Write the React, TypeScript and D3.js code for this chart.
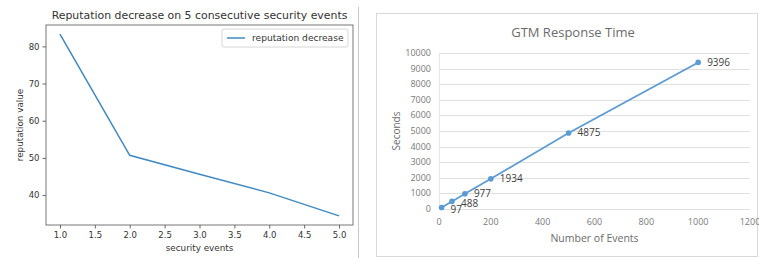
import { useEffect, useRef } from 'react';
import * as d3 from 'd3';

// left chart: reputation decrease
const repEvents = [1, 2, 3, 4, 5];
const repValues = [83.3, 50.7, 45.6, 40.6, 34.4];
const repTitle = 'Reputation decrease on 5 consecutive security events';
const repLegend = 'reputation decrease';

// right chart: GTM response time
const gtmEvents = [10, 50, 100, 200, 500, 1000];
const gtmSeconds = [97, 488, 977, 1934, 4875, 9396];
const gtmXTicks = [0, 200, 400, 600, 800, 1000, 1200];
const gtmYTicks = [0, 1000, 2000, 3000, 4000, 5000, 6000, 7000, 8000, 9000, 10000];

const App = () => {
  const svgRef = useRef<SVGSVGElement>(null);

  useEffect(() => {
    const svg = d3.select(svgRef.current);
    svg.selectAll('*').remove();
    svg.append('rect').attr('width', 759).attr('height', 258).attr('fill', '#fff');

    // ---- left: matplotlib style ----
    const mpl = 'DejaVu Sans';
    const box = { left: 46, right: 353, top: 25, bottom: 225 };
    const [x0, x1] = d3.extent(repEvents) as [number, number];
    const [y0, y1] = d3.extent(repValues) as [number, number];
    const xm = (x1 - x0) * 0.05;
    const ym = (y1 - y0) * 0.05;
    const x = d3.scaleLinear().domain([x0 - xm, x1 + xm]).range([box.left, box.right]);
    const y = d3.scaleLinear().domain([y0 - ym, y1 + ym]).range([box.bottom, box.top]);

    const left = svg.append('g').attr('font-family', mpl);

    const xAxis = left.append('g')
      .attr('transform', `translate(0,${box.bottom})`)
      .call(d3.axisBottom(x).ticks(9).tickFormat(d3.format('.1f')).tickSize(3.5).tickPadding(3));
    const yAxis = left.append('g')
      .attr('transform', `translate(${box.left},0)`)
      .call(d3.axisLeft(y).ticks(5).tickSize(3.5).tickPadding(3));
    [xAxis, yAxis].forEach(a => {
      a.select('.domain').remove();
      a.selectAll('line').attr('stroke', '#444').attr('stroke-width', 0.8);
      a.selectAll('text').attr('font-family', mpl).attr('font-size', 8.5).attr('fill', '#333');
    });

    left.append('path')
      .datum(repEvents.map((e, i) => [e, repValues[i]] as [number, number]))
      .attr('fill', 'none')
      .attr('stroke', '#3f8ac4')
      .attr('stroke-width', 1.5)
      .attr('d', d3.line<[number, number]>().x(d => x(d[0])).y(d => y(d[1])));

    left.append('rect')
      .attr('x', box.left).attr('y', box.top)
      .attr('width', box.right - box.left).attr('height', box.bottom - box.top)
      .attr('fill', 'none').attr('stroke', '#555').attr('stroke-width', 0.8);

    left.append('text')
      .attr('x', (box.left + box.right) / 2).attr('y', 19)
      .attr('text-anchor', 'middle').attr('font-size', 10.9).attr('fill', '#333')
      .text(repTitle);

    left.append('text')
      .attr('x', (box.left + box.right) / 2).attr('y', 251)
      .attr('text-anchor', 'middle').attr('font-size', 8.8).attr('fill', '#333')
      .text('security events');

    left.append('text')
      .attr('transform', `translate(23,${(box.top + box.bottom) / 2}) rotate(-90)`)
      .attr('text-anchor', 'middle').attr('font-size', 8.8).attr('fill', '#333')
      .text('reputation value');

    // legend
    const lg = left.append('g');
    lg.append('rect')
      .attr('x', 222).attr('y', 29).attr('width', 126).attr('height', 18).attr('rx', 2)
      .attr('fill', '#fff').attr('stroke', '#ccc').attr('stroke-width', 0.8);
    lg.append('line')
      .attr('x1', 227).attr('x2', 245).attr('y1', 38).attr('y2', 38)
      .attr('stroke', '#3f8ac4').attr('stroke-width', 1.5);
    lg.append('text')
      .attr('x', 252).attr('y', 41).attr('font-size', 9.1).attr('fill', '#333')
      .text(repLegend);

    // separator
    svg.append('line')
      .attr('x1', 358.5).attr('x2', 358.5).attr('y1', 7).attr('y2', 258)
      .attr('stroke', '#c8c8c8').attr('stroke-width', 1);

    // ---- right: excel style ----
    const xl = 'Open Sans';
    const right = svg.append('g').attr('font-family', xl);
    right.append('rect')
      .attr('x', 376.5).attr('y', 13.5).attr('width', 381).attr('height', 243)
      .attr('fill', '#fff').attr('stroke', '#d9d9d9');

    const gx = d3.scaleLinear().domain([0, 1200]).range([439, 750]);
    const gy = d3.scaleLinear().domain([0, 10000]).range([209, 53]);

    right.append('g').selectAll('line').data(gtmYTicks).join('line')
      .attr('x1', gx(0)).attr('x2', gx(1200))
      .attr('y1', d => Math.round(gy(d)) + 0.5).attr('y2', d => Math.round(gy(d)) + 0.5)
      .attr('stroke', '#e0e0e0');
    right.append('line')
      .attr('x1', gx(0) + 0.5).attr('x2', gx(0) + 0.5).attr('y1', gy(10000)).attr('y2', gy(0))
      .attr('stroke', '#e6e6e6');

    right.append('g').selectAll('text').data(gtmYTicks).join('text')
      .attr('x', 431).attr('y', d => gy(d) + 3)
      .attr('text-anchor', 'end').attr('font-size', 9).attr('fill', '#7a7a7a')
      .text(d => d);
    right.append('g').selectAll('text').data(gtmXTicks).join('text')
      .attr('x', d => gx(d)).attr('y', 225)
      .attr('text-anchor', 'middle').attr('font-size', 9).attr('fill', '#7a7a7a')
      .text(d => d);

    right.append('text')
      .attr('x', 573).attr('y', 37)
      .attr('text-anchor', 'middle').attr('font-size', 13).attr('fill', '#6b6b6b')
      .text('GTM Response Time');
    right.append('text')
      .attr('x', gx(600)).attr('y', 242)
      .attr('text-anchor', 'middle').attr('font-size', 10.5).attr('fill', '#6b6b6b')
      .text('Number of Events');
    right.append('text')
      .attr('transform', `translate(400,${gy(5000)}) rotate(-90)`)
      .attr('text-anchor', 'middle').attr('font-size', 10).attr('fill', '#6b6b6b')
      .text('Seconds');

    const pts = gtmEvents.map((e, i) => [e, gtmSeconds[i]] as [number, number]);
    right.append('path')
      .datum(pts)
      .attr('fill', 'none').attr('stroke', '#5b9bd5').attr('stroke-width', 1.75)
      .attr('d', d3.line<[number, number]>().x(d => gx(d[0])).y(d => gy(d[1])));
    right.append('g').selectAll('circle').data(pts).join('circle')
      .attr('cx', d => gx(d[0])).attr('cy', d => gy(d[1])).attr('r', 2.8)
      .attr('fill', '#5b9bd5');
    right.append('g').selectAll('text').data(pts).join('text')
      .attr('x', d => gx(d[0]) + 9)
      .attr('y', d => gy(d[1]) + (d[1] < 600 ? 6 : 3.5))
      .attr('font-size', 10).attr('fill', '#404040')
      .text(d => d[1]);
  }, []);

  return (
    <svg ref={svgRef} width={759} height={258}
      style={{ position: 'absolute', left: 0, top: 0, display: 'block' }} />
  );
};

export default App;
